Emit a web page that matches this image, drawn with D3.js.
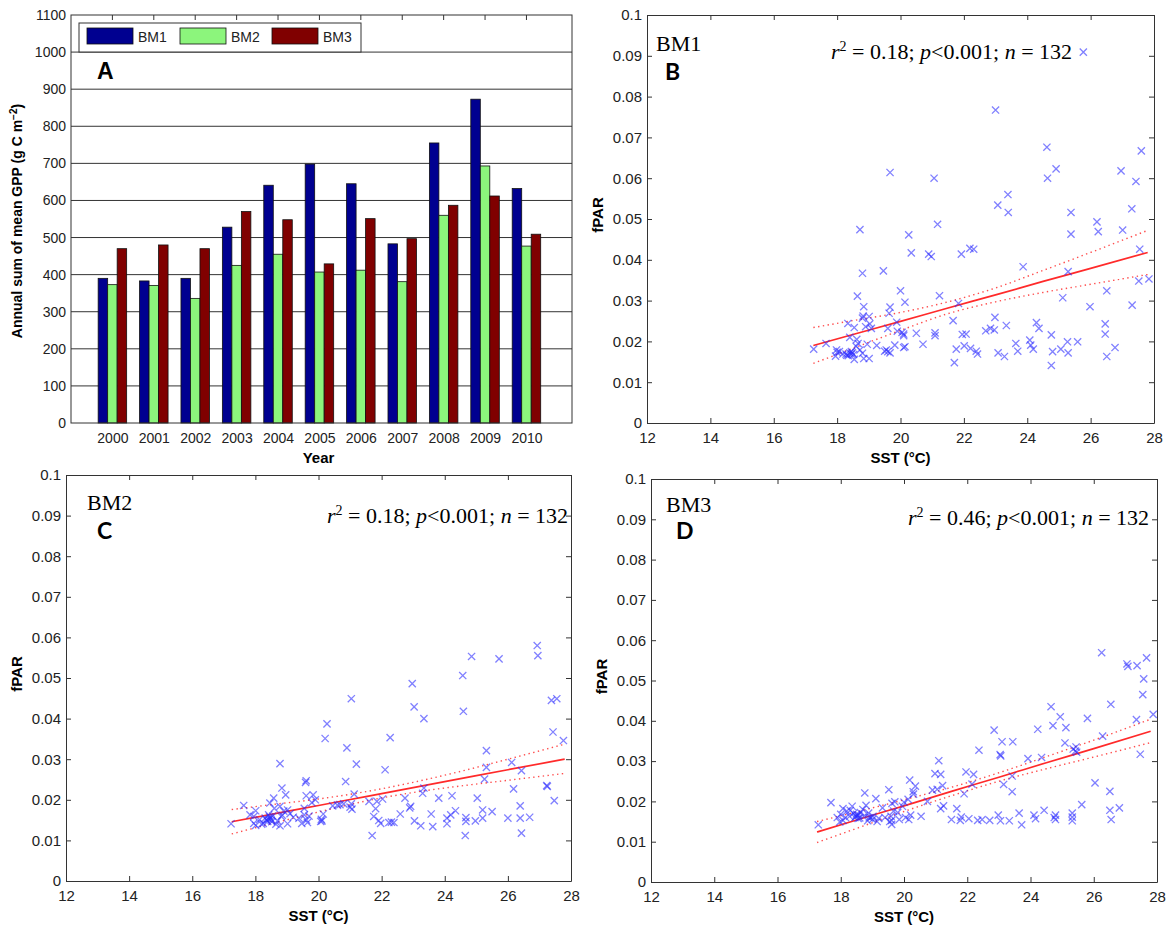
<!DOCTYPE html>
<html>
<head>
<meta charset="utf-8">
<script src="https://cdn.jsdelivr.net/npm/d3@7"></script>
<style>
  body { margin: 0; background: #fff; }
  svg { display: block; }
  .tick text { fill: #222; }
</style>
</head>
<body>
<svg id="fig" width="1168" height="926"></svg>
<script>
// ---------- Panel A: annual sums of mean GPP ----------
const years = [2000, 2001, 2002, 2003, 2004, 2005, 2006, 2007, 2008, 2009, 2010];
const seriesNames = ["BM1", "BM2", "BM3"];
const seriesColors = ["#000090", "#8cf57c", "#800000"];
const gppBM1 = [390, 383, 390, 528, 641, 698, 645, 483, 755, 873, 632];
const gppBM2 = [373, 371, 336, 425, 455, 407, 412, 381, 560, 693, 477];
const gppBM3 = [470, 480, 470, 570, 548, 429, 551, 497, 587, 612, 509];
const gppTicks = [0, 100, 200, 300, 400, 500, 600, 700, 800, 900, 1000, 1100];

// ---------- Panels B-D: fPAR against SST ----------
const sstTicks = [12, 14, 16, 18, 20, 22, 24, 26, 28];
const fparTicks = [0, 0.01, 0.02, 0.03, 0.04, 0.05, 0.06, 0.07, 0.08, 0.09, 0.1];
const fparTickLabels = ["0", "0.01", "0.02", "0.03", "0.04", "0.05", "0.06", "0.07", "0.08", "0.09", "0.1"];

const pointsBM1 = [
  [25.77,0.0909],[23.0,0.0767],[24.62,0.0676],[27.6,0.0667],[19.67,0.0614],[21.06,0.0600],
  [24.64,0.0600],[24.91,0.0623],[26.96,0.0618],[27.43,0.0592],[23.39,0.0560],[23.07,0.0534],
  [23.40,0.0516],[25.38,0.0516],[27.3,0.0525],[26.2,0.0493],[21.17,0.0487],[18.72,0.0474],
  [20.26,0.0461],[25.38,0.0463],[26.24,0.0469],[27.01,0.0473],[20.34,0.0417],[20.89,0.0414],
  [20.97,0.0408],[21.92,0.0414],[22.19,0.0428],[22.31,0.0426],[27.55,0.0426],[23.87,0.0383],
  [18.80,0.0367],[19.46,0.0373],[25.29,0.0371],[27.52,0.0348],[27.84,0.0353],[18.64,0.0311],
  [21.23,0.0312],[20.0,0.0324],[20.14,0.0296],[25.12,0.0307],[21.83,0.0293],[18.84,0.0285],
  [19.67,0.0284],[25.98,0.0285],[27.31,0.0289],[26.51,0.0324],[19.01,0.0261],[18.8,0.0257],
  [19.64,0.0269],[22.98,0.0259],[19.03,0.0243],[18.9,0.0236],[18.34,0.0244],[18.54,0.0234],
  [19.6,0.0232],[19.88,0.0247],[19.9,0.0225],[23.34,0.0239],[21.66,0.0251],[24.29,0.0246],
  [24.37,0.0232],[26.46,0.0243],[26.46,0.0218],[22.69,0.0226],[22.84,0.0232],[22.96,0.0228],
  [20.5,0.0220],[21.09,0.0221],[21.09,0.0214],[20.1,0.0218],[20.1,0.0214],[21.95,0.0217],
  [22.07,0.0218],[24.76,0.0216],[18.4,0.0210],[17.26,0.0181],[17.65,0.0195],[18.62,0.0205],
  [18.66,0.0195],[18.95,0.0193],[19.25,0.0190],[19.82,0.0191],[20.14,0.0187],[20.71,0.0193],
  [23.64,0.0195],[23.7,0.0176],[24.08,0.0203],[24.11,0.0191],[24.19,0.0181],[22.01,0.0189],
  [22.21,0.0183],[22.39,0.0176],[22.43,0.0169],[21.76,0.0181],[21.7,0.0148],[23.08,0.0172],
  [23.28,0.0163],[24.8,0.0175],[24.76,0.0141],[25.06,0.0181],[25.27,0.0199],[25.29,0.0172],
  [25.59,0.0199],[26.51,0.0163],[26.77,0.0185],[17.98,0.0179],[18.07,0.0175],[17.95,0.0164],
  [18.18,0.0169],[18.28,0.0169],[18.4,0.0172],[18.45,0.0169],[18.52,0.0168],[18.54,0.0156],
  [18.8,0.0171],[18.84,0.0158],[19.01,0.0158],[19.55,0.0179],[19.6,0.0175],[19.67,0.0172],
  [20.1,0.0185],[18.72,0.0179],[18.35,0.0165],[18.48,0.0172],[18.3,0.0166],[18.6,0.0188],
  [19.08,0.0232],[18.82,0.0262],[20.05,0.0222],[18.45,0.0175],[18.0,0.0173],[19.5,0.0176]
];
const pointsBM2 = [
  [26.93,0.0580],[26.95,0.0555],[24.85,0.0553],[25.72,0.0547],[24.57,0.0506],[22.97,0.0486],
  [23.03,0.0429],[23.34,0.0400],[24.59,0.0418],[21.04,0.0449],[20.27,0.0387],[20.21,0.0351],
  [22.27,0.0353],[20.9,0.0328],[21.2,0.0288],[18.78,0.0289],[22.11,0.0274],[27.38,0.0445],
  [27.55,0.0449],[27.43,0.0367],[27.76,0.0346],[25.32,0.0321],[25.32,0.0280],[25.26,0.0251],
  [26.12,0.0292],[26.18,0.0227],[26.43,0.0272],[27.23,0.0235],[27.25,0.0233],[27.47,0.0198],
  [26.39,0.0185],[26.39,0.0155],[26.43,0.0118],[26.69,0.0157],[26.0,0.0155],[25.5,0.0171],
  [25.2,0.0175],[25.2,0.0155],[25.03,0.0204],[24.97,0.0148],[24.67,0.0156],[24.67,0.0147],
  [24.65,0.0112],[24.34,0.0173],[24.19,0.0163],[24.23,0.0210],[24.07,0.0155],[24.07,0.0141],
  [23.81,0.0204],[23.57,0.0165],[23.62,0.0134],[23.3,0.0216],[23.34,0.0229],[23.24,0.0136],
  [23.04,0.0148],[22.92,0.0184],[22.89,0.0180],[22.74,0.0204],[22.59,0.0165],[22.39,0.0144],
  [22.23,0.0144],[22.03,0.0202],[21.97,0.0142],[21.85,0.0196],[21.81,0.0178],[21.75,0.0159],
  [21.7,0.0112],[21.91,0.0149],[21.6,0.0196],[21.13,0.0214],[21.04,0.0190],[21.06,0.0177],
  [20.86,0.0245],[20.68,0.0188],[20.45,0.0185],[20.15,0.0165],[20.09,0.0152],[20.07,0.0147],
  [19.79,0.0193],[19.83,0.0212],[19.61,0.0247],[19.59,0.0243],[19.61,0.0210],[19.55,0.0179],
  [19.55,0.0163],[19.65,0.0144],[19.47,0.0142],[19.38,0.0155],[19.2,0.0157],[19.02,0.0175],
  [18.96,0.0212],[18.84,0.0229],[19.02,0.0141],[18.78,0.0136],[18.82,0.0159],[18.78,0.0184],
  [18.58,0.0204],[18.6,0.0179],[18.46,0.0192],[18.42,0.0163],[18.42,0.0152],[18.39,0.0147],
  [18.31,0.0155],[18.25,0.0142],[18.13,0.0151],[18.01,0.0137],[17.95,0.0142],[18.01,0.0173],
  [17.95,0.0159],[17.83,0.0163],[17.63,0.0186],[17.23,0.0141],[18.48,0.0155],[18.5,0.0150],
  [18.45,0.0158],[18.52,0.0146],[18.36,0.0150],[18.55,0.0160],[18.7,0.0148],[18.9,0.0172],
  [19.1,0.0166],[19.62,0.0150],[20.11,0.0148],[20.6,0.0187],[19.7,0.0160],[18.2,0.0140],
  [18.65,0.0140],[22.31,0.0145],[21.0,0.0182],[19.9,0.0200],[18.85,0.0162],[20.8,0.0190]
];
const pointsBM3 = [
  [26.25,0.0569],[27.05,0.0541],[27.08,0.0535],[27.37,0.0537],[27.67,0.0556],[27.58,0.0504],
  [27.55,0.0465],[26.54,0.0441],[24.65,0.0435],[24.71,0.0388],[24.94,0.0410],[25.12,0.0383],
  [24.23,0.0379],[25.8,0.0406],[27.35,0.0403],[27.88,0.0416],[27.47,0.0317],[26.28,0.0362],
  [25.09,0.0345],[25.42,0.0325],[25.44,0.0335],[25.46,0.0322],[24.35,0.0309],[23.92,0.0306],
  [22.85,0.0377],[23.1,0.0348],[23.44,0.0348],[23.06,0.0313],[23.04,0.0316],[23.15,0.0242],
  [23.42,0.0263],[23.42,0.0224],[22.37,0.0327],[22.2,0.0267],[22.15,0.0243],[21.96,0.0273],
  [21.9,0.0219],[21.1,0.0301],[20.98,0.0269],[21.16,0.0267],[21.22,0.0239],[21.25,0.0189],
  [21.16,0.0182],[20.9,0.0228],[20.74,0.0200],[20.54,0.0163],[20.36,0.0238],[20.29,0.0224],
  [20.18,0.0253],[20.13,0.0205],[20.21,0.0166],[20.15,0.0155],[19.85,0.0155],[19.95,0.0188],
  [19.71,0.0199],[19.67,0.0176],[19.59,0.0163],[19.61,0.0153],[19.61,0.0143],[19.52,0.0229],
  [19.32,0.0184],[19.11,0.0207],[19.02,0.0163],[18.9,0.0159],[18.88,0.0171],[18.76,0.0221],
  [18.8,0.0190],[18.6,0.0159],[18.57,0.0166],[18.48,0.0163],[18.5,0.0168],[18.36,0.0188],
  [18.19,0.0176],[18.28,0.0163],[18.07,0.0182],[18.07,0.0153],[17.97,0.0149],[17.89,0.0160],
  [17.69,0.0197],[17.29,0.0142],[21.67,0.0182],[21.78,0.0153],[21.81,0.0161],[22.05,0.0157],
  [22.33,0.0153],[22.47,0.0155],[22.71,0.0153],[22.98,0.0166],[23.33,0.0152],[23.64,0.0171],
  [23.72,0.0142],[24.11,0.0166],[24.16,0.0157],[24.43,0.0178],[24.79,0.0166],[24.79,0.0155],
  [25.32,0.0171],[25.32,0.0152],[25.32,0.0161],[25.62,0.0192],[26.04,0.0246],[26.51,0.0225],
  [26.51,0.0178],[26.55,0.0155],[26.81,0.0184],[18.45,0.0160],[18.52,0.0165],[18.4,0.0170],
  [18.55,0.0158],[18.62,0.0172],[18.7,0.0180],[18.95,0.0160],[19.0,0.0155],[18.85,0.0152],
  [19.2,0.0158],[19.55,0.0150],[19.62,0.0195],[19.8,0.0172],[20.05,0.0160],[18.3,0.0178],
  [18.15,0.0160],[18.0,0.0168],[19.4,0.0160],[20.0,0.0198],[20.3,0.0218],[21.05,0.0230],
  [21.5,0.0155],[24.75,0.0160],[25.35,0.0330],[23.05,0.0152],[18.75,0.0165],[19.15,0.0150]
];

// regression lines and 95% confidence bands, sampled along SST
const bandSST = [17.25, 18.5, 20, 21.5, 23, 24.5, 26, 27.8];
const fitBM1 = [0.0190, 0.0217, 0.0249, 0.0282, 0.0314, 0.0347, 0.0379, 0.0418];
const upperBM1 = [0.0234, 0.0251, 0.0271, 0.0297, 0.0331, 0.0374, 0.0418, 0.0472];
const lowerBM1 = [0.0146, 0.0183, 0.0227, 0.0268, 0.0297, 0.0320, 0.0340, 0.0364];
const fitBM2 = [0.0146, 0.0164, 0.0186, 0.0208, 0.0230, 0.0252, 0.0274, 0.0300];
const upperBM2 = [0.0176, 0.0188, 0.0202, 0.0220, 0.0243, 0.0270, 0.0300, 0.0337];
const lowerBM2 = [0.0116, 0.0141, 0.0170, 0.0197, 0.0218, 0.0234, 0.0248, 0.0265];
const fitBM3 = [0.0124, 0.0154, 0.0189, 0.0225, 0.0260, 0.0296, 0.0331, 0.0374];
const upperBM3 = [0.0150, 0.0174, 0.0204, 0.0235, 0.0271, 0.0311, 0.0352, 0.0404];
const lowerBM3 = [0.0098, 0.0133, 0.0175, 0.0214, 0.0250, 0.0281, 0.0310, 0.0346];

const svg = d3.select("#fig");
const AXIS = "#333";
const SANS = "'Liberation Sans', Arial, sans-serif";
const SERIF = "'Liberation Serif', 'Times New Roman', serif";

// ================= Panel A =================
(function drawBars() {
  const L = 71, R = 572, T = 15, B = 423;
  const x = d3.scaleLinear().domain([1999, 2011.1]).range([L, R]);
  const y = d3.scaleLinear().domain([0, 1100]).range([B, T]);
  const g = svg.append("g");
  const bw = 9.5;

  // horizontal grid
  g.append("g").selectAll("line").data(gppTicks.filter(v => v > 0 && v < 1100)).join("line")
    .attr("x1", L).attr("x2", R).attr("y1", d => y(d)).attr("y2", d => y(d))
    .attr("stroke", AXIS).attr("stroke-width", 1);

  const series = [gppBM1, gppBM2, gppBM3];
  series.forEach((vals, si) => {
    g.append("g").selectAll("rect").data(vals).join("rect")
      .attr("x", (d, i) => x(years[i]) + (si - 1.5) * bw)
      .attr("width", bw)
      .attr("y", d => y(d))
      .attr("height", d => y(0) - y(d))
      .attr("fill", seriesColors[si])
      .attr("stroke", "#111").attr("stroke-width", 0.8);
  });

  // axes
  const yAx = g.append("g").attr("transform", `translate(${L},0)`)
    .call(d3.axisLeft(y).tickValues(gppTicks).tickFormat(d3.format("d")).tickSize(0).tickPadding(5));
  yAx.select(".domain").remove();
  yAx.selectAll("text").style("font-family", SANS).style("font-size", "14px");

  const xAx = g.append("g").attr("transform", `translate(0,${B})`)
    .call(d3.axisBottom(x).tickValues(years).tickFormat(d3.format("d")).tickSize(0).tickPadding(10));
  xAx.select(".domain").remove();
  xAx.selectAll("text").style("font-family", SANS).style("font-size", "14px");

  // top ticks
  g.append("g").selectAll("line").data(years).join("line")
    .attr("x1", d => x(d)).attr("x2", d => x(d)).attr("y1", T).attr("y2", T + 5)
    .attr("stroke", AXIS);

  g.append("rect").attr("x", L).attr("y", T).attr("width", R - L).attr("height", B - T)
    .attr("fill", "none").attr("stroke", AXIS).attr("stroke-width", 1);

  // legend
  const lg = g.append("g");
  lg.append("rect").attr("x", 79).attr("y", 23).attr("width", 282).attr("height", 29)
    .attr("fill", "#fff").attr("stroke", AXIS);
  const sw = [87, 180, 272];
  seriesNames.forEach((name, i) => {
    lg.append("rect").attr("x", sw[i]).attr("y", 28).attr("width", 46).attr("height", 16)
      .attr("fill", seriesColors[i]).attr("stroke", "#111").attr("stroke-width", 0.8);
    lg.append("text").attr("x", sw[i] + 51).attr("y", 42).text(name)
      .style("font-family", SANS).style("font-size", "14px").attr("fill", "#222");
  });

  g.append("text").attr("x", 97).attr("y", 79).text("A")
    .style("font-family", SANS).style("font-size", "23px").style("font-weight", "bold");

  g.append("text").attr("x", (L + R) / 2 - 3).attr("y", 463).attr("text-anchor", "middle").text("Year")
    .style("font-family", SANS).style("font-size", "15px").style("font-weight", "bold");

  const yl = g.append("text").attr("transform", `translate(22,${(T + B) / 2 + 2}) rotate(-90)`)
    .attr("text-anchor", "middle")
    .style("font-family", SANS).style("font-size", "14px").style("font-weight", "bold");
  yl.append("tspan").text("Annual sum of mean GPP (g C m");
  yl.append("tspan").attr("dy", -5).style("font-size", "10px").text("\u22122");
  yl.append("tspan").attr("dy", 5).text(")");
})();

// ================= Panels B-D =================
function drawScatter(cfg) {
  const { L, R, T, B, pts, fit, upper, lower, name, letter, stat, nameX, nameY, letterX, letterY, statX, statY } = cfg;
  const x = d3.scaleLinear().domain([12, 28]).range([L, R]);
  const y = d3.scaleLinear().domain([0, 0.1]).range([B, T]);
  const g = svg.append("g");

  // frame + inward ticks
  const bx = g.append("g").attr("transform", `translate(0,${B})`)
    .call(d3.axisBottom(x).tickValues(sstTicks).tickSize(-5).tickSizeOuter(0).tickPadding(9));
  const tx = g.append("g").attr("transform", `translate(0,${T})`)
    .call(d3.axisTop(x).tickValues(sstTicks).tickSize(-5).tickSizeOuter(0).tickFormat(""));
  const ly = g.append("g").attr("transform", `translate(${L},0)`)
    .call(d3.axisLeft(y).tickValues(fparTicks).tickSize(-5).tickSizeOuter(0).tickPadding(5)
      .tickFormat((d, i) => fparTickLabels[i]));
  const ry = g.append("g").attr("transform", `translate(${R},0)`)
    .call(d3.axisRight(y).tickValues(fparTicks).tickSize(-5).tickSizeOuter(0).tickFormat(""));
  [bx, tx, ly, ry].forEach(a => {
    a.selectAll("line").attr("stroke", AXIS);
    a.select(".domain").attr("stroke", AXIS);
    a.selectAll("text").style("font-family", SANS).style("font-size", "15px");
  });

  // confidence band (dotted) and fitted line
  const line = d3.line().x((d, i) => x(bandSST[i])).y(d => y(d)).curve(d3.curveMonotoneX);
  [upper, lower].forEach(arr => {
    g.append("path").attr("d", line(arr)).attr("fill", "none")
      .attr("stroke", "#ff4d4d").attr("stroke-width", 1.4).attr("stroke-dasharray", "1.4,3.4");
  });
  g.append("path").attr("d", line(fit)).attr("fill", "none")
    .attr("stroke", "#ff2a2a").attr("stroke-width", 1.7);

  // x markers
  const s = 3.6;
  g.append("g").selectAll("path").data(pts).join("path")
    .attr("transform", d => `translate(${x(d[0])},${y(d[1])})`)
    .attr("d", `M${-s},${-s}L${s},${s}M${-s},${s}L${s},${-s}`)
    .attr("stroke", "#2b2bff").attr("stroke-opacity", 0.6).attr("stroke-width", 1.3)
    .attr("fill", "none");

  // labels
  g.append("text").attr("x", (L + R) / 2).attr("y", B + 40).attr("text-anchor", "middle")
    .text("SST (°C)")
    .style("font-family", SANS).style("font-size", "15px").style("font-weight", "bold");
  g.append("text").attr("transform", `translate(${L - 44},${(T + B) / 2 - 4}) rotate(-90)`)
    .attr("text-anchor", "middle").text("fPAR")
    .style("font-family", SANS).style("font-size", "15px").style("font-weight", "bold");

  g.append("text").attr("x", nameX).attr("y", nameY).text(name)
    .style("font-family", SERIF).style("font-size", "22px");
  g.append("text").attr("x", letterX).attr("y", letterY).text(letter)
    .style("font-family", "Lato, 'Open Sans', sans-serif").style("font-size", "23px").style("font-weight", "bold");

  const st = g.append("text").attr("x", statX).attr("y", statY)
    .style("font-family", SERIF).style("font-size", "22px");
  st.append("tspan").style("font-style", "italic").text("r");
  st.append("tspan").attr("dy", -8).style("font-size", "14px").text("2");
  st.append("tspan").attr("dy", 8).text(` = ${stat.r2}; `);
  st.append("tspan").style("font-style", "italic").text("p");
  st.append("tspan").text(`<${stat.p}; `);
  st.append("tspan").style("font-style", "italic").text("n");
  st.append("tspan").text(` = ${stat.n}`);
}

drawScatter({ L: 647, R: 1154, T: 15, B: 423, pts: pointsBM1, fit: fitBM1, upper: upperBM1, lower: lowerBM1,
  name: "BM1", letter: "B", stat: { r2: "0.18", p: "0.001", n: pointsBM1.length },
  nameX: 656, nameY: 51, letterX: 665, letterY: 80, statX: 831, statY: 59 });
drawScatter({ L: 66, R: 571, T: 475, B: 881, pts: pointsBM2, fit: fitBM2, upper: upperBM2, lower: lowerBM2,
  name: "BM2", letter: "C", stat: { r2: "0.18", p: "0.001", n: pointsBM2.length },
  nameX: 87, nameY: 510, letterX: 97, letterY: 539, statX: 327, statY: 523 });
drawScatter({ L: 651, R: 1157, T: 479, B: 882, pts: pointsBM3, fit: fitBM3, upper: upperBM3, lower: lowerBM3,
  name: "BM3", letter: "D", stat: { r2: "0.46", p: "0.001", n: pointsBM3.length },
  nameX: 666, nameY: 512, letterX: 676, letterY: 539, statX: 908, statY: 525 });
</script>
</body>
</html>
